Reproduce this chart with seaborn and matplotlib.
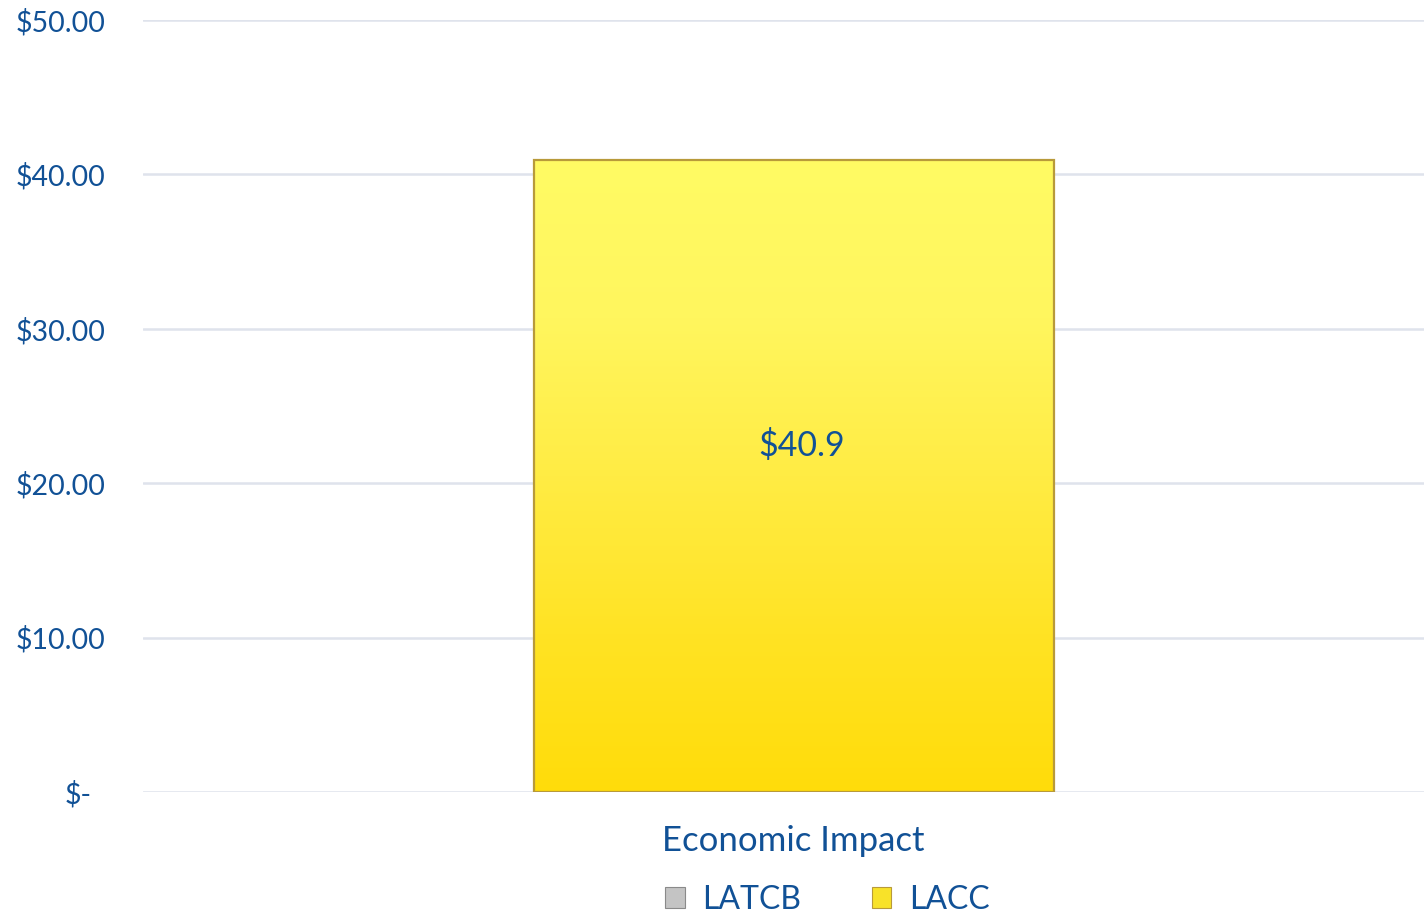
import numpy as np
import pandas as pd
import matplotlib
matplotlib.use("Agg")
import matplotlib.pyplot as plt
import seaborn as sns
from matplotlib.colors import LinearSegmentedColormap
from matplotlib.patches import Patch

# Data
categories = ["Economic Impact"]
series = ["LATCB", "LACC"]
values = [0.0, 40.9]
y_ticks = [0, 10, 20, 30, 40, 50]
y_tick_labels = ["$-", "$10.00", "$20.00", "$30.00", "$40.00", "$50.00"]

TEXT_BLUE = "#115196"
GRID = "#dfe3ec"

sns.set_theme(style="white")
plt.rcParams["font.family"] = ["Lato", "DejaVu Sans"]

df = pd.DataFrame({"category": categories * len(series), "series": series, "value": values})

fig = plt.figure(figsize=(14.24, 9.17), dpi=100)
ax = fig.add_axes([0.1004, 0.1363, 0.8996, 0.8419])

palette = {"LATCB": "#c8c8c8", "LACC": "#fbe636"}
sns.barplot(data=df, x="category", y="value", hue="series", palette=palette,
            dodge=False, width=0.406, ax=ax, legend=False, zorder=3)

ax.set_ylim(0, 50)
ax.set_xlim(-0.508, 0.492)
ax.set_yticks(y_ticks)
ax.set_yticklabels(y_tick_labels)
ax.yaxis.grid(True, color=GRID, linewidth=1.8, zorder=0)
ax.set_axisbelow(True)
for s in ax.spines.values():
    s.set_visible(False)
ax.tick_params(axis="y", length=0, pad=27, labelsize=20.5, labelcolor=TEXT_BLUE)
for lbl in ax.get_yticklabels():
    if lbl.get_text() == "$-":
        lbl.set_x(-0.011)
ax.tick_params(axis="x", length=0, pad=24, labelsize=25, labelcolor=TEXT_BLUE)
ax.set_xlabel("")
ax.set_ylabel("")

# Vertical gradient fill for the bars
grad_cmap = LinearSegmentedColormap.from_list(
    "gold", ["#ffdc0a", "#ffe324", "#ffec44", "#fff65e", "#fffb64"])
for patch in ax.patches:
    h = patch.get_height()
    if h <= 0:
        patch.set_visible(False)
        continue
    x0 = patch.get_x()
    w = patch.get_width()
    grad = np.linspace(0, 1, 256).reshape(-1, 1)
    im = ax.imshow(grad, cmap=grad_cmap, origin="lower", aspect="auto",
                   extent=(x0, x0 + w, 0, h), zorder=3.5, interpolation="bicubic")
    im.set_clip_path(patch)
    patch.set_edgecolor("#b89a3a")
    patch.set_linewidth(1.6)
    patch.set_facecolor("none")
    patch.set_zorder(4)
    ax.text(x0 + w / 2 + 0.006, h * 0.548, f"${h:.1f}", ha="center", va="center",
            fontsize=24.5, color=TEXT_BLUE, zorder=5)

# Legend
handles = [Patch(facecolor="#c4c4c4", edgecolor="#8a8a8a", linewidth=0.8, label="LATCB"),
           Patch(facecolor="#f8e229", edgecolor="#b89a3a", linewidth=0.8, label="LACC")]
leg = fig.legend(handles=handles, loc="center", bbox_to_anchor=(0.581, 0.019), ncol=2,
                 frameon=False, fontsize=23, handlelength=0.62, handleheight=0.62,
                 handletextpad=0.55, columnspacing=2.2, labelcolor=TEXT_BLUE)

fig.savefig("out.png", dpi=100)
